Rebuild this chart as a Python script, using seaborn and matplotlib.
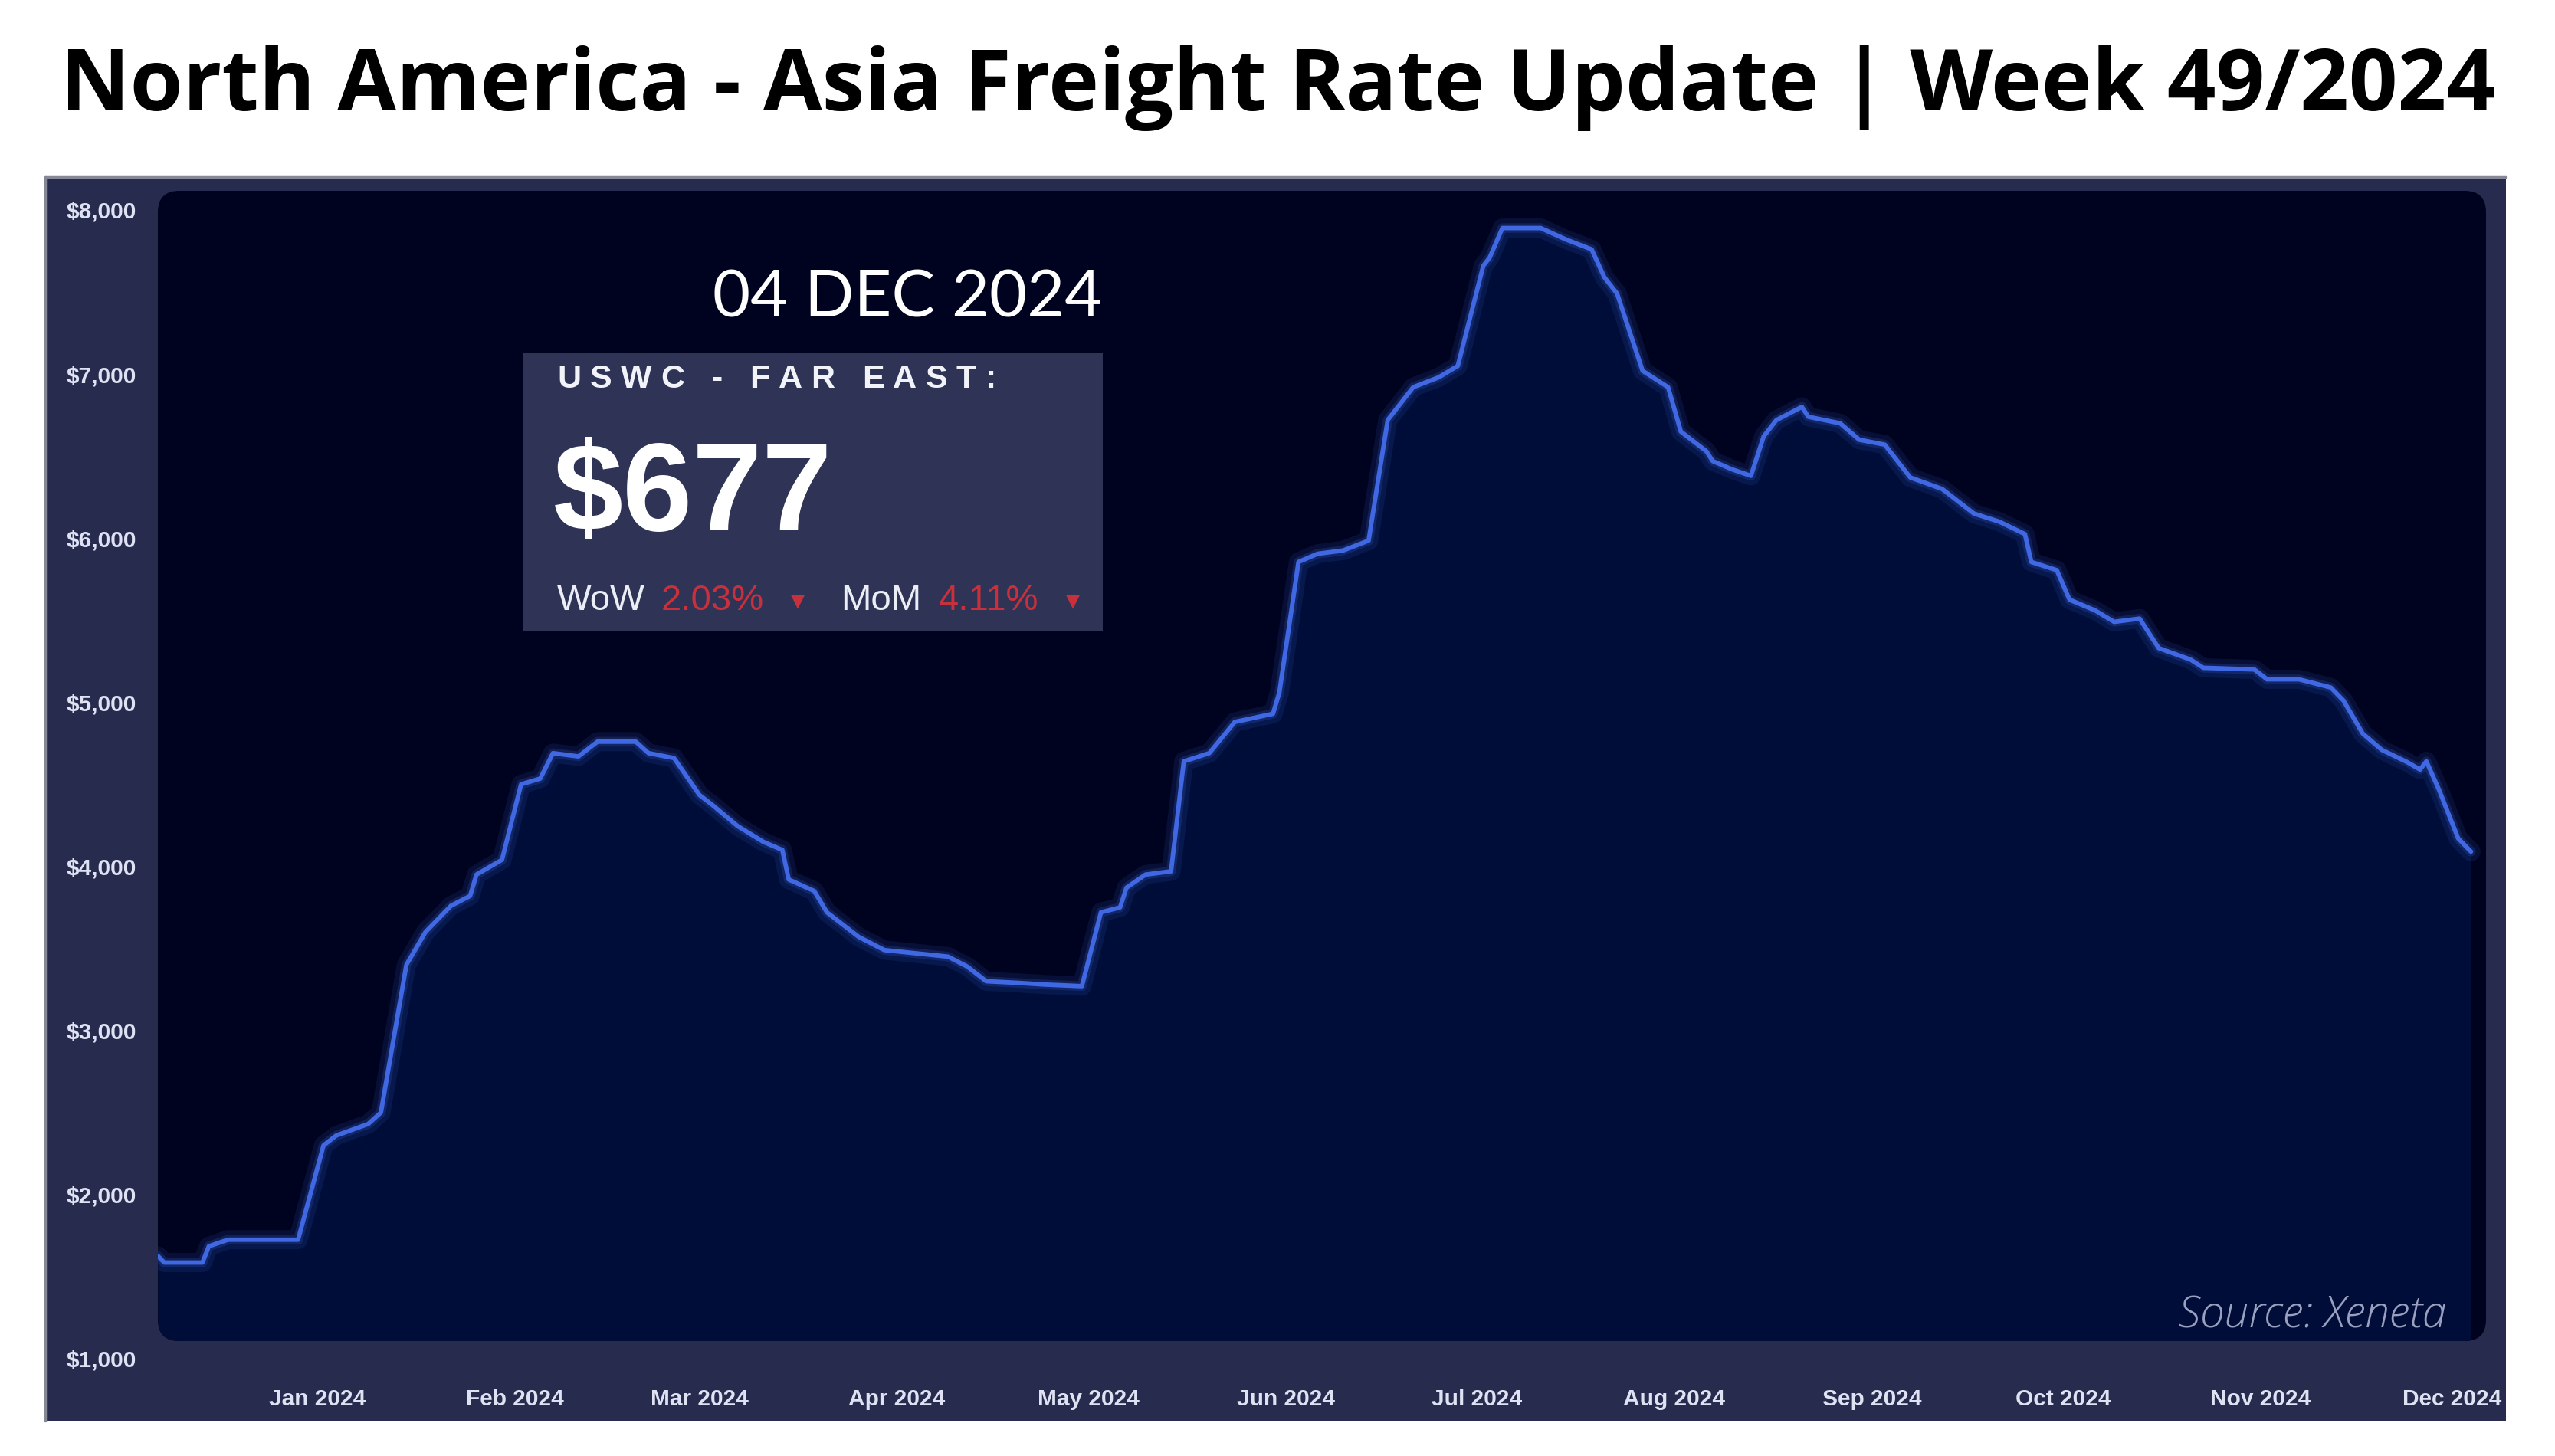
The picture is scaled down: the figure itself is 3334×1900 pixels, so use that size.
import matplotlib
matplotlib.use("Agg")
import matplotlib.pyplot as plt
from matplotlib.patches import FancyBboxPatch, Rectangle
from matplotlib.lines import Line2D
import pandas as pd
import seaborn as sns

# ---------------- data ----------------
dates = [
    "2023-12-07", "2023-12-08", "2023-12-14", "2023-12-15", "2023-12-18", "2023-12-29",
    "2024-01-02", "2024-01-04", "2024-01-09", "2024-01-11", "2024-01-15", "2024-01-18",
    "2024-01-22", "2024-01-25", "2024-01-26", "2024-01-30", "2024-02-02", "2024-02-05",
    "2024-02-07", "2024-02-11", "2024-02-14", "2024-02-20", "2024-02-22", "2024-02-26",
    "2024-03-01", "2024-03-03", "2024-03-07", "2024-03-11", "2024-03-14", "2024-03-15",
    "2024-03-19", "2024-03-21", "2024-03-26", "2024-03-30", "2024-04-09", "2024-04-12",
    "2024-04-15", "2024-04-20", "2024-04-24", "2024-04-30", "2024-05-03", "2024-05-06",
    "2024-05-07", "2024-05-10", "2024-05-14", "2024-05-16", "2024-05-20", "2024-05-24",
    "2024-05-30", "2024-05-31", "2024-06-03", "2024-06-06", "2024-06-10", "2024-06-14",
    "2024-06-17", "2024-06-21", "2024-06-25", "2024-06-28", "2024-07-02", "2024-07-03",
    "2024-07-05", "2024-07-11", "2024-07-15", "2024-07-19", "2024-07-21", "2024-07-23",
    "2024-07-27", "2024-07-31", "2024-08-02", "2024-08-06", "2024-08-07", "2024-08-10",
    "2024-08-13", "2024-08-15", "2024-08-17", "2024-08-21", "2024-08-22", "2024-08-27",
    "2024-08-30", "2024-09-03", "2024-09-07", "2024-09-12", "2024-09-17", "2024-09-21",
    "2024-09-25", "2024-09-26", "2024-09-30", "2024-10-02", "2024-10-06", "2024-10-09",
    "2024-10-13", "2024-10-16", "2024-10-21", "2024-10-23", "2024-10-31", "2024-11-02",
    "2024-11-07", "2024-11-12", "2024-11-14", "2024-11-17", "2024-11-20", "2024-11-24",
    "2024-11-26", "2024-11-27", "2024-11-29", "2024-12-02", "2024-12-04",
]
rates = [
    1626, 1586, 1586, 1685, 1725, 1725,
    2300, 2360, 2430, 2500, 3400, 3600,
    3760, 3820, 3950, 4040, 4500, 4535,
    4690, 4670, 4760, 4760, 4690, 4660,
    4435, 4375, 4245, 4150, 4100, 3920,
    3850, 3720, 3570, 3490, 3450, 3390,
    3300, 3290, 3280, 3270, 3720, 3750,
    3870, 3950, 3970, 4640, 4690, 4880,
    4930, 5060, 5855, 5905, 5925, 5985,
    6720, 6920, 6980, 7050, 7660, 7710,
    7890, 7890, 7820, 7760, 7590, 7490,
    7020, 6920, 6650, 6530, 6470, 6420,
    6380, 6620, 6720, 6800, 6740, 6700,
    6600, 6570, 6370, 6300, 6150, 6100,
    6025, 5855, 5805, 5625, 5560, 5490,
    5510, 5330, 5260, 5210, 5200, 5140,
    5140, 5090, 5010, 4810, 4710, 4635,
    4590, 4640, 4465, 4170, 4090,
]
y_ticks = [1000, 2000, 3000, 4000, 5000, 6000, 7000, 8000]
y_tick_labels = ["$1,000", "$2,000", "$3,000", "$4,000", "$5,000", "$6,000", "$7,000", "$8,000"]
month_ticks = ["2024-01-01", "2024-02-01", "2024-03-01", "2024-04-01", "2024-05-01", "2024-06-01",
               "2024-07-01", "2024-08-01", "2024-09-01", "2024-10-01", "2024-11-01", "2024-12-01"]
month_labels = ["Jan 2024", "Feb 2024", "Mar 2024", "Apr 2024", "May 2024", "Jun 2024",
                "Jul 2024", "Aug 2024", "Sep 2024", "Oct 2024", "Nov 2024", "Dec 2024"]

title = "North America - Asia Freight Rate Update | Week 49/2024"
box_date = "04 DEC 2024"
box_route = "USWC - FAR EAST:"
box_price = "$677"
wow_label, wow_value = "WoW", "2.03%"
mom_label, mom_value = "MoM", "4.11%"
source = "Source: Xeneta"

df = pd.DataFrame({"date": pd.to_datetime(dates), "rate": rates})

# ---------------- style ----------------
sns.set_theme(style="white")
plt.rcParams["font.family"] = ["Liberation Sans", "DejaVu Sans"]

W, H, DPI = 3334, 1900, 100
fig = plt.figure(figsize=(W / DPI, H / DPI), dpi=DPI, facecolor="white")
renderer = fig.canvas.get_renderer()

def fx(px):
    return px / W

def fy(py):
    return 1 - py / H

OUTER = "#272b4d"
INNER = "#00031f"
UNDER = "#000d38"
LINE = "#4068e2"
TICK = "#dfe2f2"

# outer panel
fig.add_artist(Rectangle((fx(60), fy(1854)), fx(3270) - fx(60), fy(230) - fy(1854),
                         transform=fig.transFigure, facecolor=OUTER, edgecolor="none", zorder=0))
fig.add_artist(Line2D([fx(59), fx(3270)], [fy(231), fy(231)], transform=fig.transFigure,
                      color="#868896", lw=2.5, zorder=1))
fig.add_artist(Line2D([fx(59), fx(59)], [fy(231), fy(1854)], transform=fig.transFigure,
                      color="#868896", lw=2.5, zorder=1))

# inner dark rounded panel (in inches)
panel = FancyBboxPatch((206 / DPI, (H - 1750) / DPI), (3244 - 206) / DPI, (1750 - 249) / DPI,
                       boxstyle="round,pad=0,rounding_size=0.28", transform=fig.dpi_scale_trans,
                       facecolor=INNER, edgecolor="none", zorder=1)
fig.add_artist(panel)

# axes
ax = fig.add_axes([fx(206), fy(1773), fx(3241) - fx(206), fy(274) - fy(1773)])
ax.set_facecolor("none")
ax.patch.set_alpha(0)
ax.set_zorder(2)

fill = ax.fill_between(df["date"], df["rate"], 0, color=UNDER, lw=0, zorder=1)
fill.set_clip_path(panel)

sns.lineplot(data=df, x="date", y="rate", ax=ax, color=LINE, lw=18, alpha=0.12, zorder=2)
sns.lineplot(data=df, x="date", y="rate", ax=ax, color=LINE, lw=9, alpha=0.2, zorder=3)
sns.lineplot(data=df, x="date", y="rate", ax=ax, color=LINE, lw=4.2, zorder=4)

ax.set_xlim(pd.Timestamp("2023-12-07"), pd.Timestamp("2024-12-06"))
ax.set_ylim(1000, 8000)
ax.set_yticks(y_ticks)
ax.set_yticklabels(y_tick_labels)
ax.set_xticks(pd.to_datetime(month_ticks))
ax.set_xticklabels(month_labels)
ax.set_xlabel("")
ax.set_ylabel("")
for s in ax.spines.values():
    s.set_visible(False)
ax.grid(False)
ax.tick_params(axis="both", length=0, colors=TICK)
ax.tick_params(axis="y", pad=20)
ax.tick_params(axis="x", pad=28)
for lab in ax.get_yticklabels() + ax.get_xticklabels():
    lab.set_family(["Liberation Sans", "DejaVu Sans"])
    lab.set_fontweight("bold")
    lab.set_fontsize(21.5)
    lab.set_color(TICK)

# title
fig.text(0.5, fy(115), title, ha="center", va="center", fontsize=80.3, fontweight="bold",
         color="black", family=["Open Sans", "DejaVu Sans"])

# info box
fig.add_artist(Rectangle((fx(683), fy(823)), fx(1439) - fx(683), fy(461) - fy(823),
                         transform=fig.transFigure, facecolor="#2f3456", edgecolor="none", zorder=5))
fig.text(fx(1438), fy(390), box_date, ha="right", va="center", fontsize=61, fontweight="normal",
         color="white", family=["Lato", "DejaVu Sans"], zorder=6)


def tracked_text(x0, y0, s, target_width, **kw):
    """Draw s char by char with extra letter spacing so it spans target_width px."""
    probe = fig.text(0, 0, s, **kw)
    natural = probe.get_window_extent(renderer).width
    probe.remove()
    track = (target_width - natural) / max(len(s) - 1, 1)
    x = x0
    for ch in s:
        t = fig.text(fx(x), fy(y0), ch, ha="left", va="center", **kw)
        if ch == " ":
            a = fig.text(0, 0, "a a", **kw)
            b = fig.text(0, 0, "aa", **kw)
            w = a.get_window_extent(renderer).width - b.get_window_extent(renderer).width
            a.remove()
            b.remove()
        else:
            w = t.get_window_extent(renderer).width
        x += w + track


tracked_text(727, 495, box_route, 566, fontsize=31, fontweight="bold", color="#f2f3f8", zorder=6)

fig.text(fx(722), fy(650), box_price, ha="left", va="center", fontsize=118, fontweight="bold",
         color="white", zorder=6)
RED = "#c8303c"
ty = 784
fig.text(fx(727), fy(ty), wow_label, ha="left", va="center", fontsize=34, color="#eceef6", zorder=6)
fig.text(fx(863), fy(ty), wow_value, ha="left", va="center", fontsize=34, color=RED, zorder=6)
fig.text(fx(1032), fy(ty), "\u25BE", ha="left", va="center", fontsize=26, color=RED,
         family=["DejaVu Sans"], zorder=6)
fig.text(fx(1097), fy(ty), mom_label, ha="left", va="center", fontsize=34, color="#eceef6", zorder=6)
fig.text(fx(1225), fy(ty), mom_value, ha="left", va="center", fontsize=34, color=RED, zorder=6)
fig.text(fx(1391), fy(ty), "\u25BE", ha="left", va="center", fontsize=26, color=RED,
         family=["DejaVu Sans"], zorder=6)

# source
fig.text(fx(3192), fy(1718), source, ha="right", va="center", fontsize=41, style="italic",
         fontweight="light", color="#9aa0bf", family=["Open Sans", "DejaVu Sans"], zorder=6)

fig.savefig("out.png", dpi=DPI, facecolor="white")
